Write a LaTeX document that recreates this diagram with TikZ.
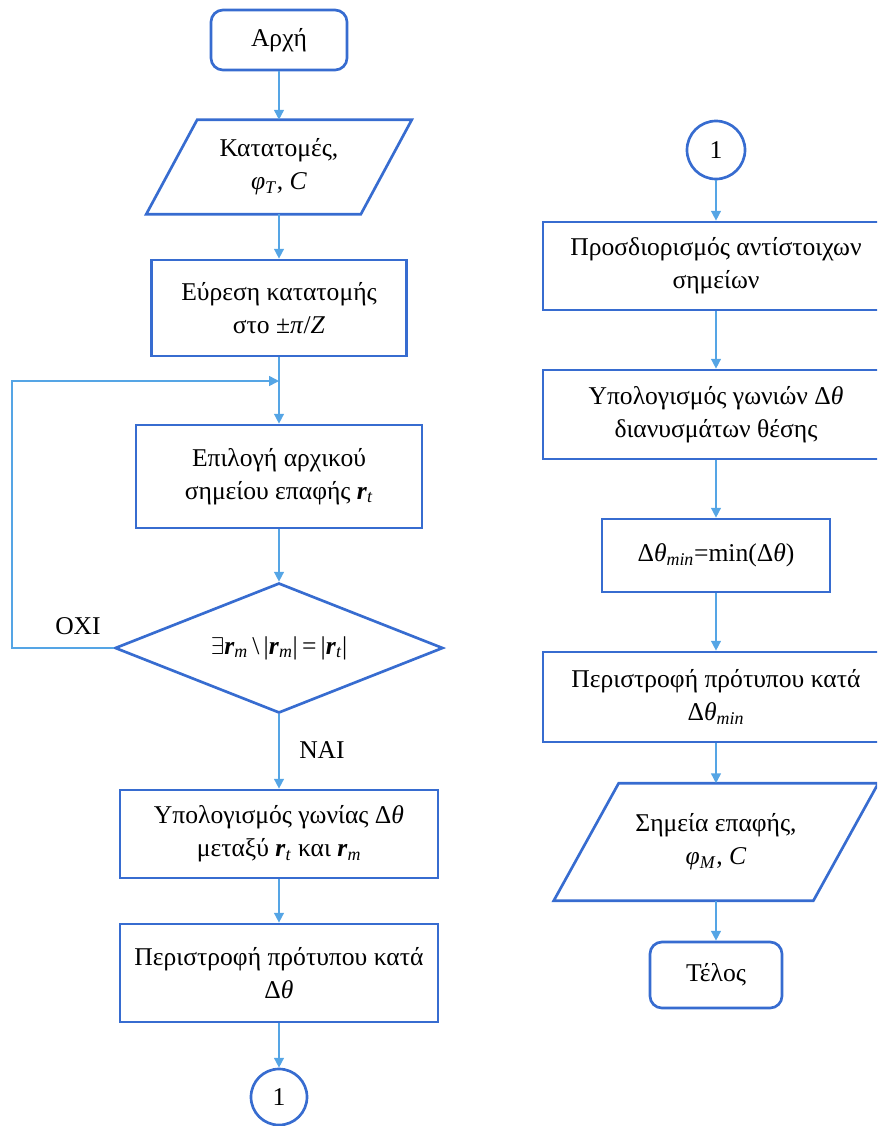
\documentclass[tikz,border=0pt]{standalone}
\usepackage{fontspec}
\setmainfont{Liberation Serif}
\usepackage{tikz}
\usetikzlibrary{positioning,arrows.meta,shapes.geometric,calc}

\definecolor{brdblue}{RGB}{55,108,208}
\definecolor{arrblue}{RGB}{85,165,229}
\newcommand{\bfr}[1]{\textbf{\textit{r}}\textsubscript{\textit{#1}}}
\newcommand{\dth}{Δ\textit{θ}}

\begin{document}
\begin{tikzpicture}[x=0.025cm, y=-0.025cm,
  font=\fontsize{18.2}{23.5}\selectfont,
  blk/.style={draw=brdblue, line width=1.9pt, align=center, inner sep=2pt, minimum width=#1},
  blk/.default=8.65cm,
  term/.style={blk=3.4cm, rounded corners=0.3cm},
  io/.style={align=center, inner sep=2pt, minimum width=#1},
  frm/.style={draw=brdblue, line width=1.9pt, line join=miter},
  dec/.style={diamond, aspect=2.5, draw=brdblue, line width=1.9pt, inner sep=0pt, minimum width=8.2cm, minimum height=3.25cm},
  con/.style={circle, draw=brdblue, line width=1.9pt, inner sep=0pt, minimum size=#1},
  arr/.style={-{Triangle[length=7pt,width=7pt]}, arrblue, line width=1.1pt},
  lab/.style={inner sep=1pt}]
\useasboundingbox (0,0) rectangle (877,1126);
\clip (0,0) rectangle (877,1126);
\node[term, minimum height=1.5cm] (start) at (279,40) {Αρχή};
\node[io=5.35cm, minimum height=2.35cm] (prof) at (279,167) {Κατατομές,\\\textit{φ}\textsubscript{\textit{T}}, \textit{C}};
\draw[frm] ($(prof.north west)+(25.5,0)$) -- ($(prof.north east)+(25.5,0)$)
  -- ($(prof.south east)+(-25.5,0)$) -- ($(prof.south west)+(-25.5,0)$) -- cycle;
\node[blk=6.375cm, minimum height=2.4cm] (find) at (279,308) {Εύρεση κατατομής\\στο ±\textit{π}/\textit{Z}};
\node[blk=7.15cm, minimum height=2.575cm] (pick) at (279,476.5) {Επιλογή αρχικού\\σημείου επαφής \bfr{t}};
\node[dec] (test) at (279,648) {$\exists$\bfr{m}\,\textbackslash\,|\bfr{m}|\,=\,|\bfr{t}|};
\node[blk=7.95cm, minimum height=2.2cm] (ang) at (279,834) {Υπολογισμός γωνίας \dth\\μεταξύ \bfr{t} και \bfr{m}};
\node[blk=7.95cm, minimum height=2.45cm] (rot) at (279,973) {Περιστροφή πρότυπου κατά\\\dth};
\node[con=1.4cm] (c1) at (279,1097) {1};
\coordinate (join) at (279,381);
\coordinate (loop) at (12,381);
\node[lab] (no) at (78,626) {ΟΧΙ};
\node[lab] (yes) at (322,750) {ΝΑΙ};

\node[con=1.45cm] (c2) at (716,150) {1};
\node[blk, minimum height=2.2cm] (corr) at (716,266) {Προσδιορισμός αντίστοιχων\\σημείων};
\node[blk, minimum height=2.225cm] (angs) at (716,414.5) {Υπολογισμός γωνιών \dth\\διανυσμάτων θέσης};
\node[blk=5.7cm, minimum height=1.825cm] (dmin) at (716,555.5) {\dth\textsubscript{\textit{min}}=min(\dth)};
\node[blk, minimum height=2.25cm] (rotm) at (716,697) {Περιστροφή πρότυπου κατά\\\dth\textsubscript{\textit{min}}};
\node[io=6.475cm, minimum height=2.925cm] (pts) at (716,842) {Σημεία επαφής,\\\textit{φ}\textsubscript{\textit{M}}, \textit{C}};
\draw[frm] ($(pts.north west)+(32.5,0)$) -- ($(pts.north east)+(32.5,0)$)
  -- ($(pts.south east)+(-32.5,0)$) -- ($(pts.south west)+(-32.5,0)$) -- cycle;
\node[term, minimum width=3.3cm, minimum height=1.65cm] (stop) at (716,975) {Τέλος};

\draw[arr] (start) -- (prof);
\draw[arr] (prof) -- (find);
\draw[arr] (find) -- (pick);
\draw[arr] (pick) -- (test);
\draw[arr] (test) -- (ang);
\draw[arr] (ang) -- (rot);
\draw[arr] (rot) -- (c1);
\draw[arr] (test.west) -| (loop) -- (join);
\draw[arr] (c2) -- (corr);
\draw[arr] (corr) -- (angs);
\draw[arr] (angs) -- (dmin);
\draw[arr] (dmin) -- (rotm);
\draw[arr] (rotm) -- (pts);
\draw[arr] (pts) -- (stop);
\end{tikzpicture}
\end{document}
